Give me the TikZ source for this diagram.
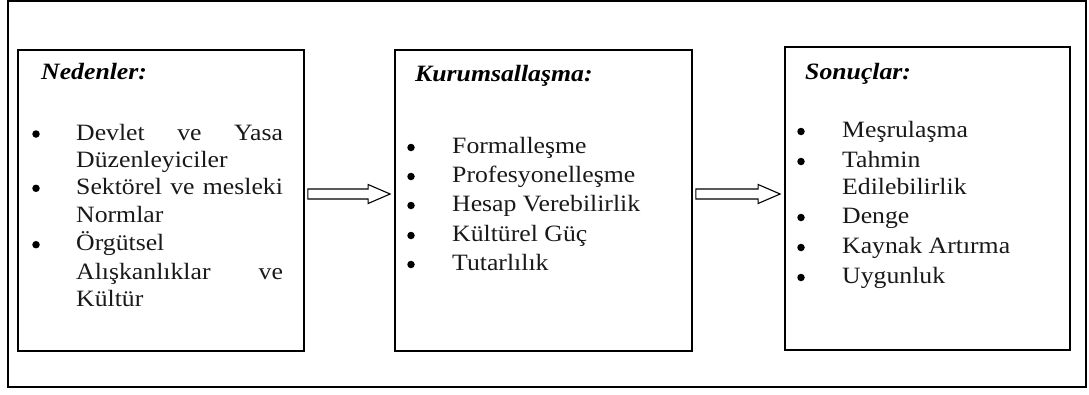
\documentclass[tikz,border=0pt]{standalone}
\usepackage{fontspec}
\usepackage{graphicx}
\setmainfont{Liberation Serif}
\usetikzlibrary{calc}
\newcommand\sx[1]{\scalebox{1.1}[1]{#1}}
\newcommand\openarr[3]{%
  \draw[openarrow] ($(#1.east|-#3)+(3,-5)$) -- ($(#2.west|-#3)+(-26,-5)$)
    -- ($(#2.west|-#3)+(-26,-9.5)$) -- ($(#2.west|-#3)+(-4,0)$)
    -- ($(#2.west|-#3)+(-26,9.5)$) -- ($(#2.west|-#3)+(-26,5)$)
    -- ($(#1.east|-#3)+(3,5)$) -- cycle;}
\begin{document}
\begin{tikzpicture}[x=1pt,y=-1pt,
  frame/.style={draw=black,line width=1.3pt},
  box/.style={draw=black,line width=1.8pt,inner sep=0pt},
  txt/.style={anchor=base west,inner sep=0pt,text=black!90,font=\fontsize{23.4}{28}\selectfont},
  ttl/.style={anchor=base west,inner sep=0pt,font=\fontsize{23.4}{28}\selectfont\bfseries\itshape},
  bul/.style={circle,fill=black,inner sep=0pt,minimum size=7.5pt},
  openarrow/.style={draw=black,line width=1.1pt,fill=white,line join=miter}]
\useasboundingbox (0,0) rectangle (1089,394);
\draw[frame] (8,1) rectangle (1086,387);
% boxes
\node[box,minimum width=286pt,minimum height=301pt] (b1) at (161,200.5) {};
\node[box,minimum width=297pt,minimum height=301pt] (b2) at (543.5,200.5) {};
\node[box,minimum width=285pt,minimum height=303pt] (b3) at (927.5,198.5) {};
% arrows
\coordinate (ya) at (0,194);
\openarr{b1}{b2}{ya}
\openarr{b2}{b3}{ya}
% box 1
\node[ttl] (t1) at (41,79) {\sx{Nedenler:}};
\node[txt] (l11) at (76,140) {\sx{\hbox to 188pt{Devlet\hfill ve\hfill Yasa}}};
\node[txt] (l12) at (76,167.3) {\sx{Düzenleyiciler}};
\node[txt] (l13) at (76,194.3) {\sx{\hbox to 188pt{Sektörel\hfill ve\hfill mesleki}}};
\node[txt] (l14) at (76,222.7) {\sx{Normlar}};
\node[txt] (l15) at (76,250.7) {\sx{Örgütsel}};
\node[txt] (l16) at (76,279) {\sx{\hbox to 188pt{Alışkanlıklar\hfill ve}}};
\node[txt] (l17) at (76,306.7) {\sx{Kültür}};
\node[bul] (p11) at (36,134) {};
\node[bul] (p12) at (36,188.3) {};
\node[bul] (p13) at (36,244.7) {};
% box 2
\node[ttl] (t2) at (415,81) {\sx{Kurumsallaşma:}};
\node[txt] (l21) at (452,153) {\sx{Formalleşme}};
\node[txt] (l22) at (452,182) {\sx{Profesyonelleşme}};
\node[txt] (l23) at (452,211) {\sx{Hesap Verebilirlik}};
\node[txt] (l24) at (452,241) {\sx{Kültürel Güç}};
\node[txt] (l25) at (452,270) {\sx{Tutarlılık}};
\node[bul] (p21) at (411,147.5) {};
\node[bul] (p22) at (411,176.5) {};
\node[bul] (p23) at (411,205.5) {};
\node[bul] (p24) at (411,235.5) {};
\node[bul] (p25) at (411,264.5) {};
% box 3
\node[ttl] (t3) at (805,79) {\sx{Sonuçlar:}};
\node[txt] (l31) at (842,137) {\sx{Meşrulaşma}};
\node[txt] (l32) at (842,167) {\sx{Tahmin}};
\node[txt] (l33) at (842,194) {\sx{Edilebilirlik}};
\node[txt] (l34) at (842,223) {\sx{Denge}};
\node[txt] (l35) at (842,253) {\sx{Kaynak Artırma}};
\node[txt] (l36) at (842,283) {\sx{Uygunluk}};
\node[bul] (p31) at (801,131.5) {};
\node[bul] (p32) at (801,161.5) {};
\node[bul] (p33) at (801,217.5) {};
\node[bul] (p34) at (801,247.5) {};
\node[bul] (p35) at (801,277.5) {};
\end{tikzpicture}
\end{document}
